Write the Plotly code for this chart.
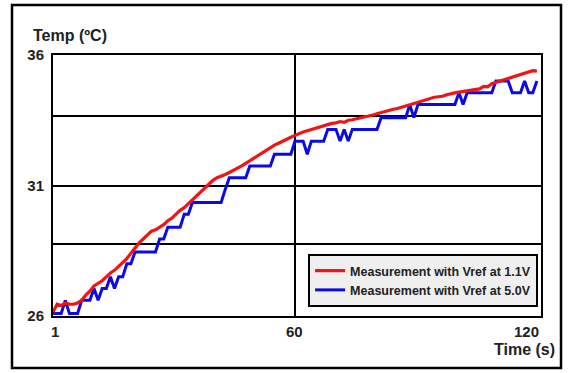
import plotly.graph_objects as go

time_s = list(range(1, 120))

red_vals = [
    26.15, 26.45, 26.40, 26.50, 26.45, 26.45, 26.50, 26.60, 26.80, 26.95,
    27.15, 27.25, 27.35, 27.50, 27.65, 27.75, 27.90, 28.05, 28.20, 28.40,
    28.60, 28.80, 28.95, 29.10, 29.25, 29.30, 29.40, 29.50, 29.65, 29.75,
    29.90, 30.05, 30.15, 30.30, 30.45, 30.60, 30.75, 30.90, 31.05, 31.20,
    31.30, 31.35, 31.42, 31.50, 31.58, 31.65, 31.75, 31.85, 31.95, 32.05,
    32.15, 32.25, 32.38, 32.45, 32.55, 32.62, 32.70, 32.80, 32.85, 32.92,
    33.00, 33.05, 33.10, 33.15, 33.20, 33.25, 33.28, 33.32, 33.38, 33.40,
    33.45, 33.42, 33.50, 33.52, 33.55, 33.58, 33.62, 33.65, 33.70, 33.75,
    33.80, 33.83, 33.88, 33.92, 33.95, 34.00, 34.05, 34.10, 34.15, 34.20,
    34.22, 34.28, 34.32, 34.38, 34.40, 34.42, 34.48, 34.50, 34.55, 34.58,
    34.60, 34.62, 34.65, 34.68, 34.70, 34.80, 34.78, 34.90, 34.95, 35.00,
    35.05, 35.10, 35.15, 35.20, 35.25, 35.30, 35.35, 35.40, 35.38,
]

blue_vals = [
    26.10, 26.10, 26.10, 26.60, 26.10, 26.10, 26.10, 26.60, 26.60, 26.60,
    27.05, 26.60, 27.05, 27.05, 27.50, 27.05, 27.50, 27.50, 28.00, 28.00,
    28.45, 28.45, 28.45, 28.45, 28.45, 28.45, 28.95, 28.95, 29.40, 29.40,
    29.40, 29.40, 29.90, 29.90, 30.35, 30.35, 30.35, 30.35, 30.35, 30.35,
    30.35, 30.35, 30.85, 31.30, 31.30, 31.30, 31.30, 31.30, 31.75, 31.75,
    31.75, 31.75, 31.75, 31.75, 32.20, 32.20, 32.20, 32.20, 32.20, 32.70,
    32.70, 32.70, 32.20, 32.70, 32.70, 32.70, 32.70, 33.15, 33.15, 33.15,
    32.70, 33.15, 32.70, 33.15, 33.15, 33.15, 33.15, 33.15, 33.15, 33.15,
    33.60, 33.60, 33.60, 33.60, 33.60, 33.60, 33.60, 34.10, 33.60, 34.10,
    34.10, 34.10, 34.10, 34.10, 34.10, 34.10, 34.10, 34.10, 34.10, 34.55,
    34.10, 34.55, 34.55, 34.55, 34.55, 34.55, 34.55, 34.55, 35.00, 35.00,
    35.00, 35.00, 34.55, 34.55, 34.55, 35.00, 34.55, 34.55, 35.00,
]

series_names = ["Measurement with Vref at 1.1V", "Measurement with Vref at 5.0V"]
y_tick_vals = [26, 28.75, 31, 33.65, 36]
y_tick_text = ["26", "", "31", "", "36"]
x_tick_vals = [1, 60, 120]
x_tick_text = ["1", "60", "120"]
y_title = "Temp (ºC)"
x_title = "Time (s)"

FONT = "Liberation Sans, Arial, sans-serif"

fig = go.Figure()
fig.add_trace(go.Scatter(
    x=time_s, y=blue_vals, mode="lines", name=series_names[1],
    line=dict(color="#0a0ae6", width=3), legendrank=2,
))
fig.add_trace(go.Scatter(
    x=time_s, y=red_vals, mode="lines", name=series_names[0],
    line=dict(color="#f01414", width=3.2), legendrank=1,
))

fig.update_layout(
    width=573, height=373,
    margin=dict(l=53, r=32, t=55, b=57),
    paper_bgcolor="white", plot_bgcolor="white",
    font=dict(family=FONT, size=15, color="black"),
    showlegend=True,
    legend=dict(
        x=0.994, y=0.2375, xanchor="right", yanchor="top",
        bgcolor="#efefef", bordercolor="black", borderwidth=2,
        font=dict(family=FONT, size=12.5, color="#222", weight="bold"),
        tracegroupgap=0, itemwidth=30,
    ),
)

fig.update_xaxes(
    range=[1, 120], tickvals=[60], showticklabels=False,
    showgrid=True, gridcolor="black", gridwidth=1.5,
    showline=True, mirror=True, linecolor="black", linewidth=2,
    zeroline=False, ticks="",
)
fig.update_yaxes(
    range=[26, 36], tickvals=y_tick_vals, ticktext=y_tick_text,
    showgrid=True, gridcolor="black", gridwidth=1.5,
    showline=True, mirror=True, linecolor="black", linewidth=2,
    zeroline=False, ticks="", ticklabelstandoff=4,
    tickfont=dict(family=FONT, size=15, color="#222", weight="bold"),
)

shifts = [2, 0, -15]
for v, t, s in zip(x_tick_vals, x_tick_text, shifts):
    fig.add_annotation(
        x=v, y=-0.0575, xref="x", yref="paper", text=t, showarrow=False,
        xanchor="center", yanchor="middle", xshift=s,
        font=dict(family=FONT, size=15, color="#222", weight="bold"),
    )

fig.add_annotation(
    x=-0.045, y=1.0766, xref="paper", yref="paper", text=y_title,
    showarrow=False, xanchor="left", yanchor="middle",
    font=dict(family=FONT, size=16, color="#222", weight="bold"),
)
fig.add_annotation(
    x=0.967, y=-0.130, xref="paper", yref="paper", text=x_title,
    showarrow=False, xanchor="center", yanchor="middle",
    font=dict(family=FONT, size=16, color="#222", weight="bold"),
)

# outer frame
fig.add_shape(
    type="rect", xref="paper", yref="paper",
    x0=-0.084, x1=1.041, y0=-0.199, y1=1.1916,
    line=dict(color="black", width=2.5), fillcolor="rgba(0,0,0,0)", layer="below",
)

fig.write_html("out.html")
